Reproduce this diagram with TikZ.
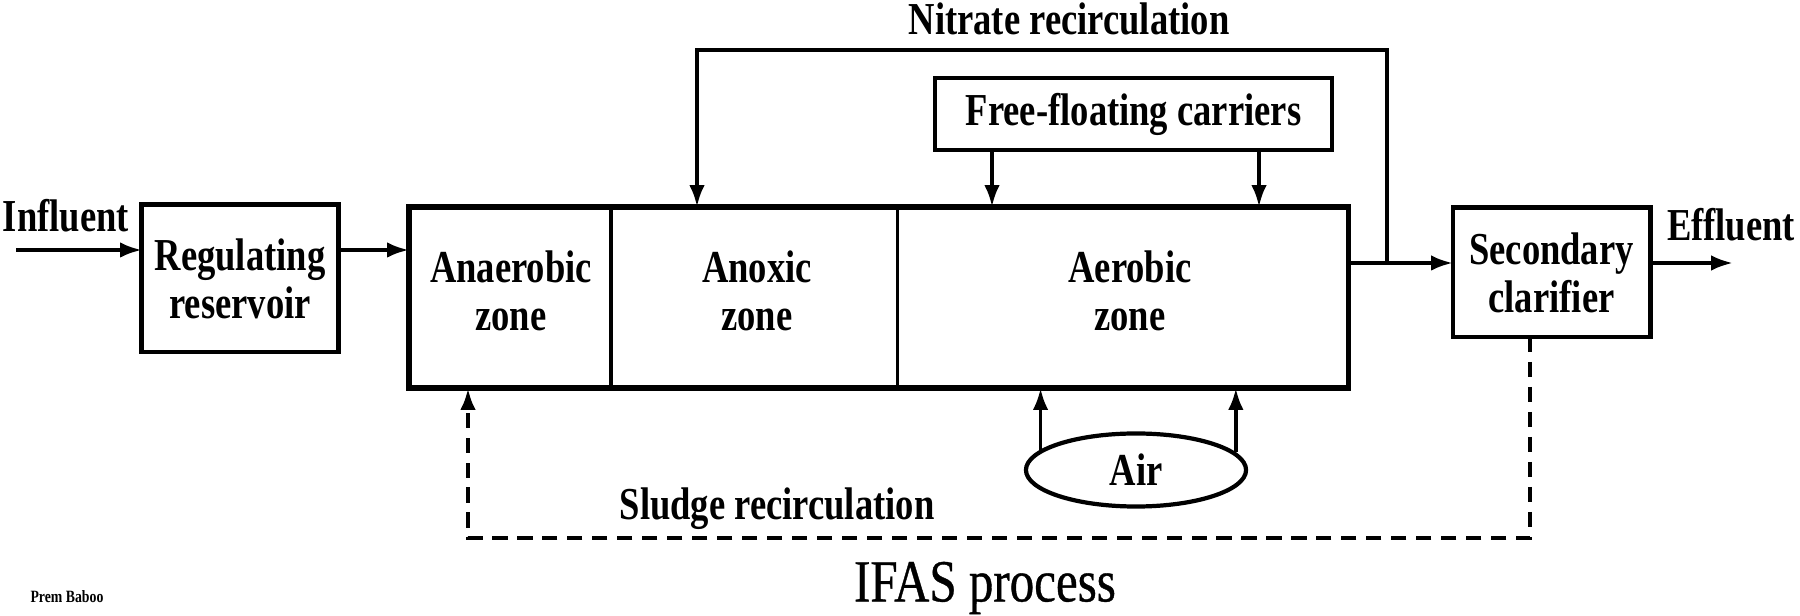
\documentclass[tikz,border=0pt]{standalone}
\usepackage{fontspec}
\setmainfont{Liberation Serif}
\newfontfamily\labfont{Liberation Serif}[FakeStretch=0.8]
\newfontfamily\ifasfont{Liberation Serif}[FakeStretch=0.82,FakeBold=0.6]
\usetikzlibrary{arrows.meta,shapes.geometric}
\tikzset{
  lbl/.style={font=\labfont\bfseries\fontsize{13}{13.7}\selectfont, align=center, inner sep=0pt},
  boxn/.style={lbl, draw, line width=1.4pt, minimum width=#1, inner sep=0pt, outer sep=0pt},
  zone/.style={minimum height=1.81cm, inner sep=0pt, outer sep=0pt},
  arr/.style={line width=1.1pt, -{Latex[length=6.2pt,width=4.4pt]}},
  dline/.style={line width=1.2pt, dash pattern=on 4.3pt off 2.8pt},
}
\begin{document}
\begin{tikzpicture}[x=0.01cm,y=-0.01cm]
\useasboundingbox (0,0) rectangle (1800,616);
% nodes
\node[lbl] (infl) at (66,216) {Influent};
\node[boxn=1.96cm, minimum height=1.47cm] (reg) at (240,278.5) {Regulating\\reservoir};
\node[zone, minimum width=2.02cm] (anaer) at (510,297.5) {};
\node[zone, minimum width=2.87cm] (anox) at (754.5,297.5) {};
\node[zone, minimum width=4.50cm] (aer) at (1123,297.5) {};
\node[lbl] (anaert) at (511,291) {Anaerobic\\zone};
\node[lbl] (anoxt) at (757,291) {Anoxic\\zone};
\node[lbl] (aert) at (1130,291) {Aerobic\\zone};
\node[boxn=3.97cm, minimum height=0.72cm, line width=1.1pt] (ffc) at (1133.5,114) {Free-floating carriers};
\node[boxn=1.97cm, minimum height=1.29cm] (sec) at (1551.5,272.5) {Secondary\\clarifier};
\node[lbl] (effl) at (1731,225) {Effluent};
\node[lbl] (nitr) at (1069,19) {Nitrate recirculation};
\node[lbl, draw, ellipse, line width=1.2pt, minimum width=2.2cm, minimum height=0.73cm, inner sep=0pt] (air) at (1136,470) {Air};
\node[lbl] (sludge) at (777,509) {Sludge recirculation};
\node[font=\ifasfont\fontsize{17}{18}\selectfont, inner sep=0pt] (ifas) at (985,588) {IFAS process};
\node[font=\labfont\bfseries\fontsize{4.9}{5.5}\selectfont, inner sep=0pt] (prem) at (67,597) {Prem Baboo};
% main tank outline and dividers
\draw[line width=1.5pt] (anaer.north west) rectangle (aer.south east);
\draw[line width=0.9pt] (anox.north west) -- (anox.south west);
\draw[line width=0.9pt] (aer.north west) -- (aer.south west);
% coordinates
\coordinate (instart) at (16,250);
\coordinate (j) at (1387,263);
\coordinate (ntop) at (697,50);
\coordinate (effend) at (1733,263);
\coordinate (f1) at (992,0);
\coordinate (f2) at (1259,0);
\coordinate (sd) at (1530,538);
\coordinate (sa) at (468,538);
% connectors
\draw[arr] (instart) -- (reg.west |- instart);
\draw[arr] (reg.east |- instart) -- (anaer.west |- instart);
\draw[arr] (aer.east |- j) -- (sec.west |- j);
\draw[arr] (sec.east |- j) -- (effend);
\draw[arr] (j) -- (j |- ntop) -- (ntop) -- (ntop |- anox.north);
\draw[arr] (ffc.south -| f1) -- (aer.north -| f1);
\draw[arr] (ffc.south -| f2) -- (aer.north -| f2);
\draw[arr] (air.168) -- (air.168 |- aer.south);
\draw[arr] (air.10) -- (air.10 |- aer.south);
\draw[dline, -{Latex[length=6.2pt,width=4.4pt]}] (sec.south -| sd) -- (sd) -- (sa) -- (sa |- anaer.south);
\end{tikzpicture}
\end{document}
